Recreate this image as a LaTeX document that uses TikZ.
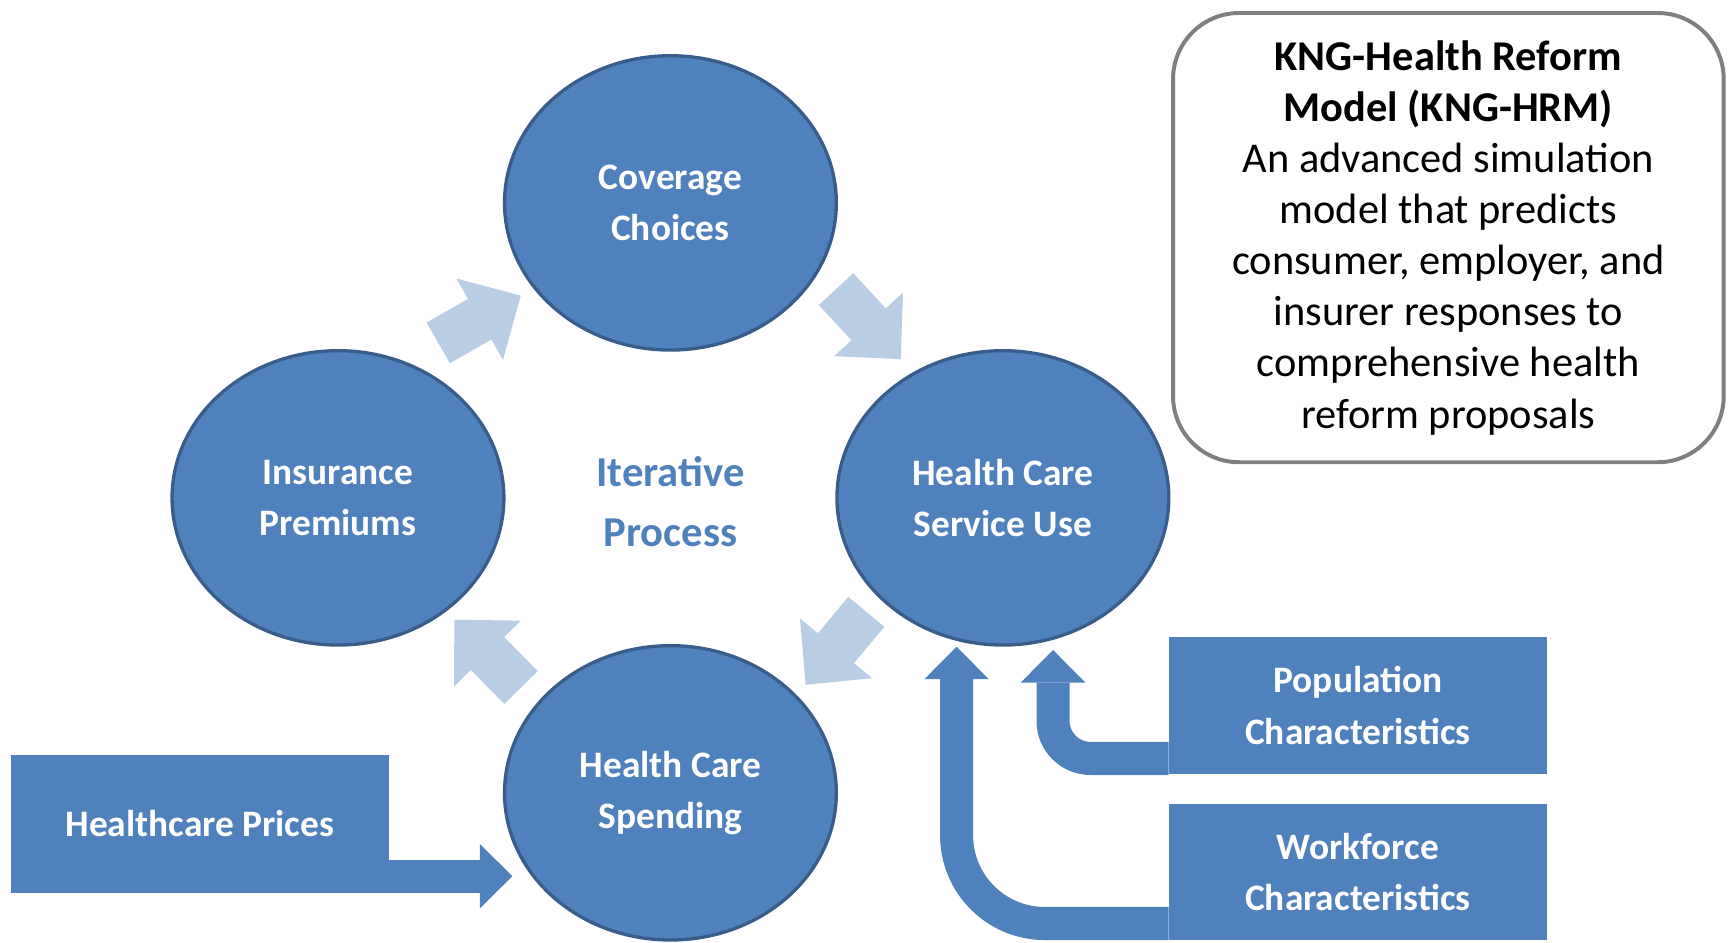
\documentclass[tikz,border=0pt]{standalone}
\usepackage{fontspec}
\setmainfont{Carlito}
\usetikzlibrary{positioning}
\usetikzlibrary{shapes}
\usetikzlibrary{arrows.meta}

\definecolor{ModelBlue}{HTML}{4F81BD}
\definecolor{ModelEdge}{HTML}{385D8A}
\definecolor{CycleBlue}{HTML}{B9CDE5}
\definecolor{NoteGray}{HTML}{7F7F7F}

\begin{document}
\begin{tikzpicture}
	[x=0.02cm, y=-0.02cm]

\useasboundingbox (0, 0) rectangle (1568, 854.3);

\def\StageWidth{6.02cm}
\def\StageHeight{5.34cm}
\def\BoxWidth{6.86cm}
\def\BoxHeight{2.48cm}

% Styles
\tikzstyle{label font} =
	[font=\fontsize{19.3}{26.6}\selectfont\bfseries]

\tikzstyle{stage} =
	[ellipse, draw=ModelEdge, line width=0.06cm, fill=ModelBlue, text=white,
	 label font, align=center, inner sep=0pt,
	 minimum width=\StageWidth, minimum height=\StageHeight]

\tikzstyle{driver} =
	[rectangle, fill=ModelBlue, text=white, label font, align=center,
	 inner sep=0pt, minimum width=\BoxWidth, minimum height=\BoxHeight]

\tikzstyle{cycle arrow} =
	[color=CycleBlue, line width=0.85cm,
	 -{Triangle[width=1.7cm, length=0.86cm, line width=0pt]}]

\tikzstyle{input arrow} =
	[color=ModelBlue, line width=0.6cm,
	 -{Triangle[width=1.17cm, length=0.59cm, line width=0pt]}]

% Modules
\node (Coverage) at (608, 184) [stage] {Coverage\\Choices};
\node (Premiums) at (306.5, 451.5) [stage] {Insurance\\Premiums};
\node (ServiceUse) at (909.5, 451.5) [stage] {Health Care\\Service Use};
\node (Spending) at (608, 719) [stage] {Health Care\\Spending};

\node (Iterative) at (608, 455)
	[text=ModelBlue, align=center, font=\fontsize{22}{30.7}\selectfont\bfseries]
	{Iterative\\Process};

\node (Population) at (1231.5, 640) [driver] {Population\\Characteristics};
\node (Workforce) [driver, below=0.52cm of Population] {Workforce\\Characteristics};
\node (Prices) at (181.3, 747) [driver, minimum height=2.5cm] {Healthcare Prices};

\node (Note) at (1313.5, 215.5)
	[draw=NoteGray, line width=0.072cm, rounded corners=1.2cm, align=center,
	 minimum width=9.99cm, minimum height=8.15cm,
	 font=\fontsize{21.9}{26.4}\selectfont]
	{\textbf{KNG-Health Reform}\\\textbf{Model (KNG-HRM)}\\
	 An advanced simulation\\model that predicts\\consumer, employer, and\\
	 insurer responses to\\comprehensive health\\reform proposals};

% Edges
\coordinate (PremiumsOut) at (397.4, 311);
\coordinate (CoverageIn) at (472.3, 268.1);
\coordinate (CoverageOut) at (758.2, 262.2);
\coordinate (ServiceUseIn) at (816.9, 325.7);
\coordinate (ServiceUseOut) at (785.6, 554.8);
\coordinate (SpendingIn) at (730.7, 621);
\coordinate (SpendingOut) at (472.5, 623.5);
\coordinate (PremiumsIn) at (412, 562);

\path[cycle arrow]
	(PremiumsOut) edge (CoverageIn)
	(CoverageOut) edge (ServiceUseIn)
	(ServiceUseOut) edge (SpendingIn)
	(SpendingOut) edge (PremiumsIn);

\path[input arrow, draw, shorten >=0.35cm]
	(Spending.211 -| Prices.east) -- (Spending.211);

\path[input arrow, draw, rounded corners=0.68cm]
	([yshift=0.29cm]Population.south west)
	-| ([xshift=0.91cm, yshift=-0.06cm]ServiceUse.south);

\path[input arrow, draw, rounded corners=1.6cm]
	([yshift=0.31cm]Workforce.south west)
	-| ([xshift=-0.84cm]ServiceUse.south);

\end{tikzpicture}
\end{document}
